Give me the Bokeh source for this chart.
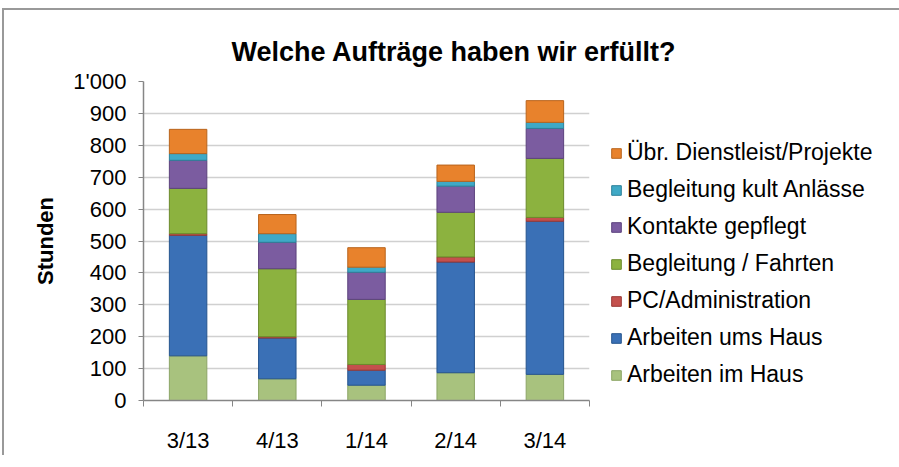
from bokeh.plotting import figure
from bokeh.models import ColumnDataSource, Range1d, FixedTicker, Legend, LegendItem
from bokeh.embed import file_html
from bokeh.resources import INLINE
import numpy as np

periods = ["3/13", "4/13", "1/14", "2/14", "3/14"]
series = ["Arbeiten im Haus", "Arbeiten ums Haus", "PC/Administration",
          "Begleitung / Fahrten", "Kontakte gepflegt", "Begleitung kult Anlässe",
          "Übr. Dienstleist/Projekte"]
arbeiten_im_haus = [140, 68, 48, 87, 82]
arbeiten_ums_haus = [378, 128, 47, 347, 480]
pc_administration = [5, 4, 18, 16, 12]
begleitung_fahrten = [142, 213, 204, 140, 185]
kontakte_gepflegt = [88, 83, 85, 82, 94]
begleitung_kult = [21, 27, 16, 15, 19]
uebr_dienstleist = [76, 60, 61, 51, 68]
y_ticks = [0, 100, 200, 300, 400, 500, 600, 700, 800, 900, 1000]

colors = ["#A8C27E", "#3A70B6", "#C4504D", "#8CB23F", "#7B5CA0", "#3FA9C6", "#E8822C"]
edges = ["#8CA566", "#25548E", "#983633", "#6B8A2C", "#5C427D", "#2C8099", "#B9641C"]

xpos = np.arange(len(periods)) + 0.5
data = {"x": xpos}
for name, vals in zip(series, [arbeiten_im_haus, arbeiten_ums_haus, pc_administration,
                               begleitung_fahrten, kontakte_gepflegt, begleitung_kult,
                               uebr_dienstleist]):
    data[name] = vals
src = ColumnDataSource(data)

p = figure(frame_width=446, frame_height=319, output_backend="svg", toolbar_location=None,
           x_range=Range1d(0, len(periods)), y_range=Range1d(0, 1000),
           min_border_left=143, min_border_right=0, min_border_top=81,
           min_border_bottom=51, title="Welche Aufträge haben wir erfüllt?")
p.outline_line_color = None
p.border_fill_alpha = 0
p.styles = {"background-color": "#ffffff",
            "background-image": "linear-gradient(#999999, #999999), linear-gradient(#999999, #999999)",
            "background-position": "2px 8px, 2px 8px",
            "background-size": "3000px 2px, 2px 3000px",
            "background-repeat": "no-repeat, no-repeat"}

p.title.text_font = "Liberation Sans"
p.title.text_font_size = "27px"
p.title.text_font_style = "bold"
p.title.align = "left"
p.title.offset = 88
p.title.standoff = 29
p.title.text_color = "#000000"

rs = p.vbar_stack(series, x="x", width=0.42, source=src, color=colors,
                  line_color=edges, line_width=1)
spacer = p.vbar(x=[], top=[], width=0.1, fill_alpha=0, line_alpha=0)

p.xaxis.ticker = FixedTicker(ticks=list(xpos), minor_ticks=list(range(len(periods) + 1)))
p.xaxis.major_label_overrides = {float(x): lab for x, lab in zip(xpos, periods)}
p.xaxis.major_tick_in = 0
p.xaxis.major_tick_out = 0
p.xaxis.minor_tick_in = 0
p.xaxis.minor_tick_out = 6
p.xaxis.minor_tick_line_color = "#868686"
p.xaxis.major_label_standoff = 21
p.xaxis.axis_line_color = "#868686"
p.xaxis.axis_line_width = 1.5
p.xgrid.visible = False

p.yaxis.ticker = FixedTicker(ticks=y_ticks, minor_ticks=[])
p.yaxis.major_label_overrides = {1000: "1'000"}
p.yaxis.major_tick_in = 0
p.yaxis.major_tick_out = 5
p.yaxis.major_tick_line_color = "#868686"
p.yaxis.axis_line_color = "#868686"
p.yaxis.axis_line_width = 1.5
p.yaxis.major_label_standoff = 12
p.yaxis.axis_label = "Stunden"
p.yaxis.axis_label_text_font = "Liberation Sans"
p.yaxis.axis_label_text_font_style = "bold"
p.yaxis.axis_label_text_font_size = "22px"
p.yaxis.axis_label_text_color = "#000000"
p.yaxis.axis_label_standoff = 12
p.ygrid.grid_line_color = "#D0D0D0"
p.ygrid.grid_line_width = 1.5

for ax in (p.xaxis, p.yaxis):
    ax.major_label_text_font = "Liberation Sans"
    ax.major_label_text_font_size = "22px"
    ax.major_label_text_color = "#000000"

items = [LegendItem(label=" ", renderers=[spacer])]
items += [LegendItem(label=name, renderers=[r]) for name, r in zip(series, rs)][::-1]
legend = Legend(items=items, location="top_left", orientation="vertical",
                padding=0, margin=21, spacing=10, label_height=27, glyph_height=12,
                glyph_width=12, label_standoff=5, border_line_color=None,
                background_fill_alpha=0,
                label_text_font="Liberation Sans", label_text_font_size="23px",
                label_text_color="#000000")
p.add_layout(legend, "right")

open("out.html", "w").write(file_html(p, INLINE))
